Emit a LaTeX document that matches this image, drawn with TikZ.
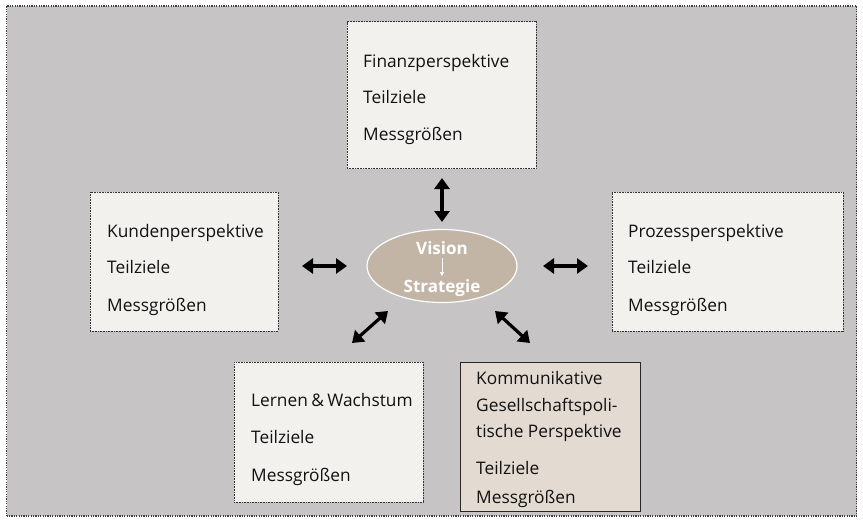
\documentclass[tikz,border=0pt]{standalone}
\usepackage{fontspec}
\setmainfont{Open Sans}
\usetikzlibrary{shapes.geometric,arrows.meta}
\definecolor{bggrey}{HTML}{C6C4C5}
\definecolor{boxfill}{HTML}{F3F1ED}
\definecolor{komfill}{HTML}{E3DAD2}
\definecolor{ellfill}{HTML}{C2B5A5}
\definecolor{txt}{HTML}{111111}
\tikzset{
  box/.style={draw=black!80, fill=boxfill, line width=0.8pt, dash pattern=on 0.8pt off 0.8pt, inner sep=0pt},
  kombox/.style={draw=black!85, fill=komfill, line width=1pt, inner sep=0pt},
  lbl/.style={anchor=base west, inner sep=0pt, text=txt, font=\fontsize{17.3}{20}\selectfont},
  dbl/.style={line width=3.2pt, {Triangle[width=15pt,length=11pt]}-{Triangle[width=15pt,length=11pt]}},
  wlbl/.style={inner sep=0pt, text=white, font=\fontsize{17}{20}\selectfont\bfseries}
}
\begin{document}
\begin{tikzpicture}[x=1pt,y=-1pt]
\useasboundingbox (0,0) rectangle (863,522);
\node[draw=black!75, fill=bggrey, line width=1.2pt, dash pattern=on 1.2pt off 1.2pt, minimum width=850, minimum height=510, inner sep=0pt] (frame) at (431.5,261) {};
% boxes
\node[box, minimum width=189, minimum height=147] (fin) at (441.5,95) {};
\node[box, minimum width=188, minimum height=139] (kun) at (184,261.5) {};
\node[box, minimum width=231, minimum height=139] (pro) at (727.5,261.5) {};
\node[box, minimum width=189, minimum height=140] (ler) at (328.5,432) {};
\node[kombox, minimum width=180, minimum height=149] (kom) at (550.5,436.5) {};
% texts
\node[lbl] (f1) at (363,67) {Finanzperspektive};
\node[lbl] (f2) at (363,103) {Teilziele};
\node[lbl] (f3) at (363,140) {Messgrößen};
\node[lbl] (k1) at (107,237) {Kundenperspektive};
\node[lbl] (k2) at (107,273) {Teilziele};
\node[lbl] (k3) at (107,311) {Messgrößen};
\node[lbl] (p1) at (628,237) {Prozessperspektive};
\node[lbl] (p2) at (628,273) {Teilziele};
\node[lbl] (p3) at (628,311) {Messgrößen};
\node[lbl] (l1) at (251,406) {Lernen\hspace{0.2em}\&\hspace{0.2em}Wachstum};
\node[lbl] (l2) at (251,443) {Teilziele};
\node[lbl] (l3) at (251,481) {Messgrößen};
\node[lbl] (m1) at (476,384) {Kommunikative};
\node[lbl] (m2) at (476,411) {Gesellschaftspoli-};
\node[lbl] (m3) at (476,437) {tische Perspektive};
\node[lbl] (m4) at (476,474) {Teilziele};
\node[lbl] (m5) at (476,503) {Messgrößen};
% ellipse
\node[ellipse, fill=ellfill, draw=white, line width=1.2pt, minimum width=150, minimum height=73, inner sep=0pt] (vs) at (442,266) {};
\node[wlbl] (vis) at (442,248) {Vision};
\node[wlbl] (str) at (442,288) {Strategie};
\coordinate (va) at (442,258);
\coordinate (vb) at (442,276);
\draw[white, line width=0.6pt, -{Triangle[width=4pt,length=4pt]}] (va) -- (vb);
% arrows
\coordinate (a1) at (442,178); \coordinate (a2) at (442,222);
\coordinate (b1) at (302,266); \coordinate (b2) at (347,266);
\coordinate (c1) at (543,266); \coordinate (c2) at (588,266);
\coordinate (d1) at (352,343); \coordinate (d2) at (388,311);
\coordinate (e1) at (495,311); \coordinate (e2) at (530,343);
\draw[dbl] (a1) -- (a2);
\draw[dbl] (b1) -- (b2);
\draw[dbl] (c1) -- (c2);
\draw[dbl] (d1) -- (d2);
\draw[dbl] (e1) -- (e2);
\end{tikzpicture}
\end{document}
